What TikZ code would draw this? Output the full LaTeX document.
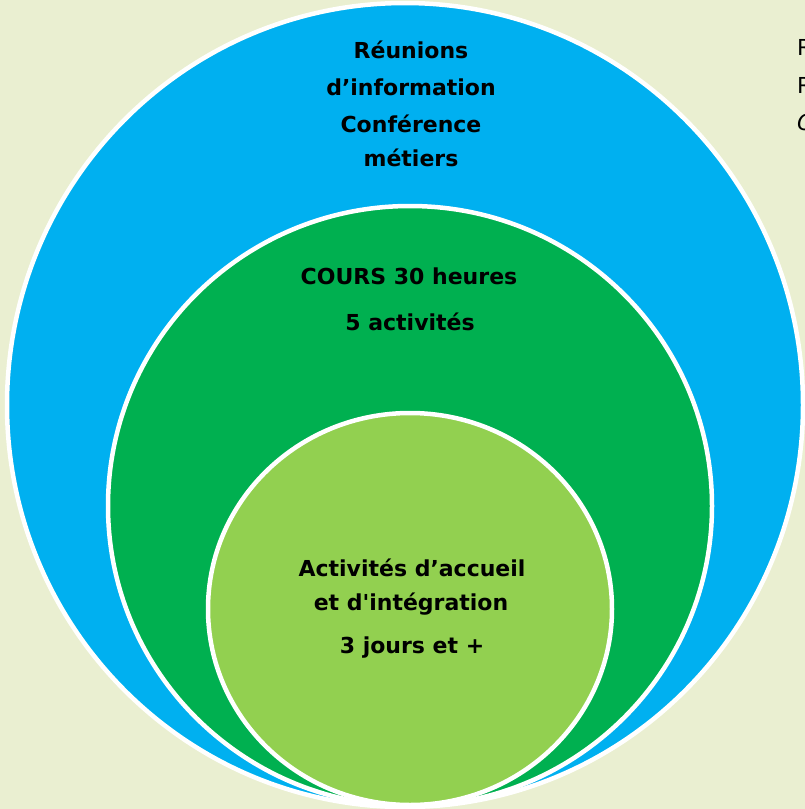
\documentclass[tikz,border=0pt]{standalone}
\usepackage{fontspec}
\newfontfamily\dvfont{DejaVu Sans}
\definecolor{bgbeige}{HTML}{EAEFD1}
\definecolor{ringblue}{HTML}{00B0F0}
\definecolor{ringgreen}{HTML}{00B050}
\definecolor{ringlight}{HTML}{92D050}
\tikzset{
  ring/.style={draw=white, line width=4.5pt},
  lbl/.style={font=\dvfont\fontsize{22}{26}\selectfont\bfseries, text=black, align=center, inner sep=0pt},
  side/.style={font=\dvfont\fontsize{22}{26}\selectfont, text=black, anchor=west, inner sep=0pt},
}
\begin{document}
\begin{tikzpicture}[x=1pt,y=-1pt]
\useasboundingbox (0,0) rectangle (805,809);
\clip (0,0) rectangle (805,809);
\fill[bgbeige] (0,0) rectangle (805,809);
\path[ring, fill=ringblue] (405,405) ellipse [x radius=398, y radius=402];
\path[ring, fill=ringgreen] (410,506) ellipse [x radius=302, y radius=300];
\path[ring, fill=ringlight] (410,609) ellipse [x radius=202, y radius=196];
\node[lbl] (t1) at (411,50) {Réunions};
\node[lbl] (t2) at (411,87) {d’information};
\node[lbl] (t3) at (411,124) {Conférence};
\node[lbl] (t4) at (411,158) {métiers};
\node[lbl] (m1) at (409,276) {COURS 30 heures};
\node[lbl] (m2) at (410,322) {5 activités};
\node[lbl] (i1) at (412,568) {Activités d’accueil};
\node[lbl] (i2) at (411,604) {et d'intégration};
\node[lbl] (i3) at (412,648) {3 jours et +};
\node[side] (s1) at (797,47) {R};
\node[side] (s2) at (797,85) {R};
\node[side] (s3) at (797,122) {\itshape C};
\end{tikzpicture}
\end{document}
